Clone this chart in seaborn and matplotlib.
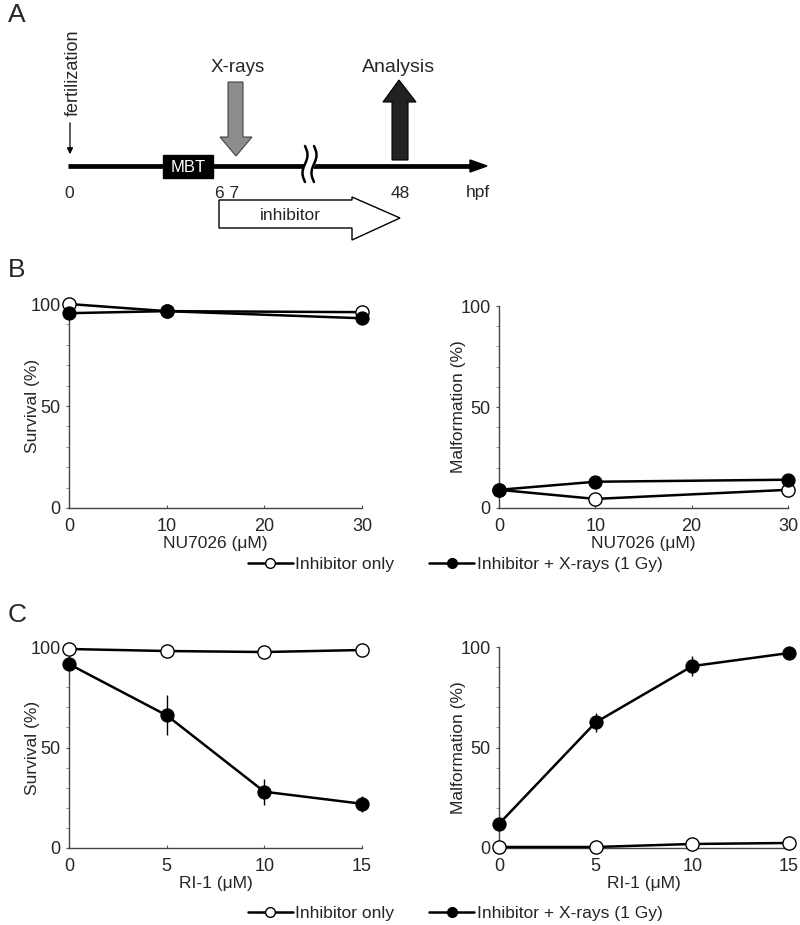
import matplotlib
matplotlib.use("Agg")
import matplotlib.pyplot as plt
import numpy as np
import pandas as pd
import seaborn as sns
from matplotlib.lines import Line2D
from matplotlib.patches import Polygon, Rectangle

# ---- data ----
nu_dose = [0, 10, 30]
nu_surv_only = [100, 96.5, 96]
nu_surv_xray = [95.5, 96.5, 93]
nu_surv_xray_err = [1, 1, 1]
nu_malf_only = [9, 4.5, 9]
nu_malf_xray = [9, 13, 14]
nu_malf_xray_err = [1, 3, 1]

ri_dose = [0, 5, 10, 15]
ri_surv_only = [99, 98, 97.5, 98.5]
ri_surv_xray = [91.5, 66, 28, 22]
ri_surv_xray_err = [2, 10, 6.5, 4]
ri_malf_only = [0.5, 0.5, 2, 2.5]
ri_malf_xray = [12, 62.5, 90.5, 97]
ri_malf_xray_err = [1.5, 4.7, 5, 2]

timeline_labels = ["0", "6 7", "48", "hpf"]
series_labels = ["Inhibitor only", "Inhibitor + X-rays (1 Gy)"]

sns.set_theme(style="ticks")
plt.rcParams["font.family"] = ["Liberation Sans", "DejaVu Sans"]

W, H = 800, 925
fig = plt.figure(figsize=(W / 100, H / 100), dpi=100)


def px_axes(x0, y_top, x1, y_bot):
    return fig.add_axes([x0 / W, 1 - y_bot / H, (x1 - x0) / W, (y_bot - y_top) / H])


# ---- panel A schematic (pixel coordinates) ----
sa = fig.add_axes([0, 1 - 250 / H, 1, 250 / H])
sa.set_xlim(0, W)
sa.set_ylim(250, 0)
sa.axis("off")

sa.plot([68, 472], [166, 166], color="black", lw=3.4, solid_capstyle="butt", zorder=1)
sa.add_patch(Polygon([[470, 160], [487, 166], [470, 172]], closed=True, color="black", zorder=1))

sa.add_patch(Rectangle((163, 155), 50, 23, color="black", zorder=2))
sa.text(188, 167, "MBT", color="white", fontsize=12, ha="center", va="center", zorder=3)

# X-rays arrow (down)
sa.add_patch(Polygon([[228, 82], [243, 82], [243, 137], [252, 137], [236, 156],
                      [220, 137], [228, 137]], closed=True, facecolor="#8c8c8c",
                     edgecolor="#444444", lw=0.8, zorder=2))
sa.text(238, 68, "X-rays", fontsize=13.5, ha="center", va="center")

# Analysis arrow (up)
sa.add_patch(Polygon([[392, 160], [408, 160], [408, 102], [416, 102], [399, 80],
                      [383, 102], [392, 102]], closed=True, facecolor="#222222",
                     edgecolor="black", lw=0.8, zorder=2))
sa.text(399, 68, "Analysis", fontsize=14, ha="center", va="center")

# fertilization
sa.text(73, 73, "fertilization", fontsize=13, rotation=90, ha="center", va="center")
sa.annotate("", xy=(70, 157), xytext=(70, 120),
            arrowprops=dict(arrowstyle="-|>", color="black", lw=0.9, mutation_scale=9))

# axis break
t = np.linspace(0, 1, 50)
by = 146 + 36 * t
bx = 2.5 * np.sin(2 * np.pi * t)
sa.fill_betweenx(by, 305 + bx, 314 + bx, color="white", zorder=3)
sa.plot(305 + bx, by, color="black", lw=1.8, zorder=4)
sa.plot(314 + bx, by, color="black", lw=1.8, zorder=4)

for xx, lab in zip([69, 227, 400, 478], timeline_labels):
    sa.text(xx, 193, lab, fontsize=12.5, ha="center", va="center")

# inhibitor arrow
sa.add_patch(Polygon([[219, 200], [352, 200], [352, 197], [400, 218], [352, 240],
                      [352, 228], [219, 228]], closed=True, facecolor="white",
                     edgecolor="black", lw=1.0, zorder=2))
sa.text(290, 216, "inhibitor", fontsize=12.5, ha="center", va="center", zorder=3)

fig.text(8 / W, 1 - 15 / H, "A", fontsize=19, ha="left", va="center")
fig.text(8 / W, 1 - 270 / H, "B", fontsize=19, ha="left", va="center")
fig.text(8 / W, 1 - 615 / H, "C", fontsize=19, ha="left", va="center")


# ---- dose-response panels ----
def panel(ax, dose, only, xray, xray_err, xmax, xticks, xlabel, ylabel, ylab_x):
    df_only = pd.DataFrame({"dose": dose, "value": only})
    df_xray = pd.DataFrame({"dose": dose, "value": xray})
    ax.errorbar(dose, xray, yerr=xray_err, fmt="none", ecolor="black",
                elinewidth=1.0, capsize=0, zorder=2, clip_on=False)
    sns.lineplot(data=df_only, x="dose", y="value", ax=ax, color="black", lw=1.8,
                 marker="o", markersize=9.5, markerfacecolor="white",
                 markeredgecolor="black", markeredgewidth=1.0, zorder=3)
    sns.lineplot(data=df_xray, x="dose", y="value", ax=ax, color="black", lw=1.8,
                 marker="o", markersize=9.5, markerfacecolor="black",
                 markeredgecolor="black", zorder=4)
    for ln in ax.lines:
        ln.set_clip_on(False)
    ax.set_xlim(0, xmax)
    ax.set_ylim(0, 100)
    ax.set_xticks(xticks)
    ax.set_yticks([0, 50, 100])
    ax.set_yticks(np.arange(0, 101, 10), minor=True)
    ax.tick_params(axis="both", labelsize=13, length=2, width=0.8, color="#555555")
    ax.tick_params(axis="y", pad=4)
    ax.tick_params(axis="y", which="minor", length=2, width=0.6, color="#888888")
    ax.tick_params(axis="x", direction="in", pad=7)
    ax.set_xlabel(xlabel, fontsize=12.5, labelpad=1)
    ax.set_ylabel(ylabel, fontsize=12.5)
    ax.yaxis.set_label_coords(ylab_x, 0.5)
    for s in ["top", "right"]:
        ax.spines[s].set_visible(False)
    for s in ["left", "bottom"]:
        ax.spines[s].set_linewidth(1.0)
        ax.spines[s].set_color("#444444")


ax1 = px_axes(69, 304, 362, 508)
panel(ax1, nu_dose, nu_surv_only, nu_surv_xray, nu_surv_xray_err, 30, [0, 10, 20, 30],
      "NU7026 (μM)", "Survival (%)", -0.10)
ax2 = px_axes(499, 306, 788, 508)
panel(ax2, nu_dose, nu_malf_only, nu_malf_xray, nu_malf_xray_err, 30, [0, 10, 20, 30],
      "NU7026 (μM)", "Malformation (%)", -0.115)
ax3 = px_axes(69, 647, 362, 848)
panel(ax3, ri_dose, ri_surv_only, ri_surv_xray, ri_surv_xray_err, 15, [0, 5, 10, 15],
      "RI-1 (μM)", "Survival (%)", -0.10)
ax4 = px_axes(499, 647, 789, 848)
panel(ax4, ri_dose, ri_malf_only, ri_malf_xray, ri_malf_xray_err, 15, [0, 5, 10, 15],
      "RI-1 (μM)", "Malformation (%)", -0.115)

handles = [
    Line2D([], [], color="black", lw=1.8, marker="o", markersize=7,
           markerfacecolor="white", markeredgecolor="black"),
    Line2D([], [], color="black", lw=1.8, marker="o", markersize=7,
           markerfacecolor="black", markeredgecolor="black"),
]
for ly in [564, 913]:
    fig.legend(handles, series_labels, ncol=2, loc="center", frameon=False,
               bbox_to_anchor=(455 / W, 1 - ly / H), fontsize=12.5,
               handlelength=2.6, handletextpad=0.15, columnspacing=2.0,
               borderaxespad=0)

fig.savefig("out.png", dpi=100)
